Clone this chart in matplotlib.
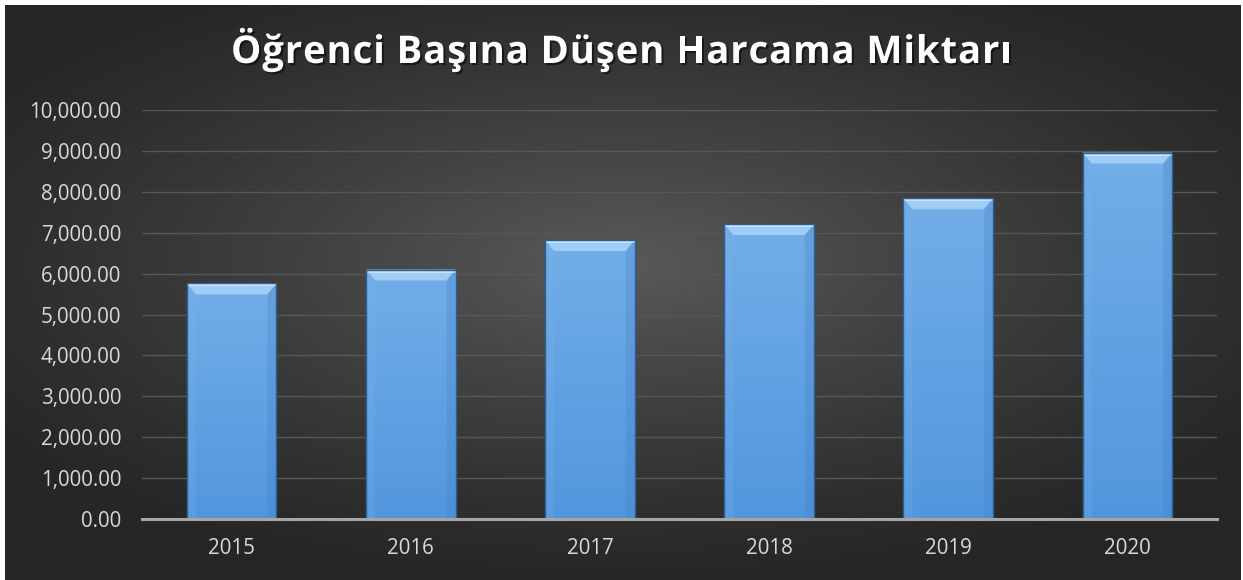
import numpy as np
import matplotlib
matplotlib.use("Agg")
import matplotlib.pyplot as plt
import matplotlib.patheffects as pe
from matplotlib.patches import Polygon, Rectangle
from matplotlib.ticker import FuncFormatter
from matplotlib.font_manager import FontProperties, findfont, get_font

years = ["2015", "2016", "2017", "2018", "2019", "2020"]
spending = [5760, 6100, 6820, 7210, 7840, 8960]
title = "Öğrenci Başına Düşen Harcama Miktarı"

W, H = 1243, 580
fig = plt.figure(figsize=(W / 100, H / 100), dpi=100, facecolor="white")

# dark radial-gradient background inside a thin white border
bg = fig.add_axes([5 / W, 0, (W - 7) / W, (H - 5) / H], zorder=0)
yy, xx = np.mgrid[-1:1:300j, -1:1:600j]
r = np.sqrt(xx ** 2 + ((yy + 0.1) / 0.9) ** 2)
shade = np.clip(1 - r / 1.25, 0, 1)
lo, hi = np.array([0.15, 0.15, 0.15]), np.array([0.35, 0.35, 0.35])
img = lo + (hi - lo) * shade[..., None] ** 1.2
bg.imshow(img, aspect="auto", extent=[0, 1, 0, 1], interpolation="bicubic")
bg.set_axis_off()

ax = fig.add_axes([142 / W, 1 - 519 / H, (1217 - 142) / W, (519 - 110) / H], zorder=1)
ax.patch.set_alpha(0)
x = np.arange(len(years))
bars = ax.bar(x, spending, width=0.5, color="#5d9fe4", edgecolor="#2f5d8c",
              linewidth=0.8, zorder=3)

ax.set_xlim(-0.5, len(years) - 0.5)
ax.set_ylim(0, 10000)
ax.set_yticks(np.arange(0, 10001, 1000))
ax.yaxis.set_major_formatter(FuncFormatter(lambda v, p: f"{v:,.2f}"))
ax.set_xticks(x, years)
ax.grid(axis="y", color="#575757", lw=1.0, zorder=0)
for s in ["top", "right", "left"]:
    ax.spines[s].set_visible(False)
ax.spines["bottom"].set_color("#a6a6a6")
ax.spines["bottom"].set_linewidth(2.2)
ax.spines["bottom"].set_zorder(5)
ax.tick_params(length=0, colors="#d9d9d9", labelsize=14.8)
ax.tick_params(axis="y", pad=15)
ax.tick_params(axis="x", pad=14)
for lab in ax.get_xticklabels() + ax.get_yticklabels():
    lab.set_fontfamily("Open Sans")

# bevel effect on each bar
px = 1.0 / 179.2            # data units per pixel in x
py = 10000 / 409.0           # data units per pixel in y
grad = np.linspace(0, 1, 100)[:, None]
for b in bars:
    x0, w, h = b.get_x(), b.get_width(), b.get_height()
    gimg = np.zeros((100, 1, 3))
    top_c, bot_c = np.array([0.45, 0.68, 0.91]), np.array([0.32, 0.59, 0.87])
    gimg[:, 0, :] = top_c * (1 - grad) + bot_c * grad
    im = ax.imshow(gimg, aspect="auto", extent=[x0, x0 + w, 0, h], zorder=3.5,
                   interpolation="bicubic")
    im.set_clip_path(b)
    bx, by = 9 * px, 11 * py
    ax.add_patch(Polygon([[x0, h], [x0 + w, h], [x0 + w - bx, h - by], [x0 + bx, h - by]],
                         closed=True, facecolor="#9fcdf5", edgecolor="none", zorder=4))
    ax.add_patch(Polygon([[x0, h], [x0 + w, h], [x0 + w, h - 3 * py], [x0, h - 3 * py]],
                         closed=True, facecolor="#c4e3fb", edgecolor="none", zorder=4))
    ax.add_patch(Polygon([[x0, h], [x0 + bx, h - by], [x0 + bx, 0], [x0, 0]],
                         closed=True, facecolor="#7ab2ea", edgecolor="none", alpha=0.25, zorder=4))
    ax.add_patch(Polygon([[x0 + w, h], [x0 + w - bx, h - by], [x0 + w - bx, 0], [x0 + w, 0]],
                         closed=True, facecolor="#3f7cc0", edgecolor="none", alpha=0.25, zorder=4))
    ax.add_patch(Rectangle((x0, 0), w, h, facecolor="none", edgecolor="#2f5d8c",
                           linewidth=1.0, zorder=4.5))

# letter-spaced title, drawn one glyph at a time
prop = FontProperties(family="Open Sans", weight="bold", size=27.5)
ft = get_font(findfont(prop))
ft.set_size(prop.get_size_in_points(), 100)
adv = [ft.load_char(ord(c)).linearHoriAdvance / 65536 for c in title]
target = 781
spacing = (target - sum(adv)) / (len(title) - 1)
cx = W / 2 - target / 2
for c, a in zip(title, adv):
    if c != " ":
        t = fig.text(cx / W, 1 - 53 / H, c, ha="left", va="center", color="white",
                     fontproperties=prop, zorder=10)
        t.set_path_effects([pe.SimplePatchShadow(offset=(1.5, -1.5), shadow_rgbFace="black",
                                                 alpha=0.5), pe.Normal()])
    cx += a + spacing

fig.savefig("out.png", dpi=100, facecolor="white")
